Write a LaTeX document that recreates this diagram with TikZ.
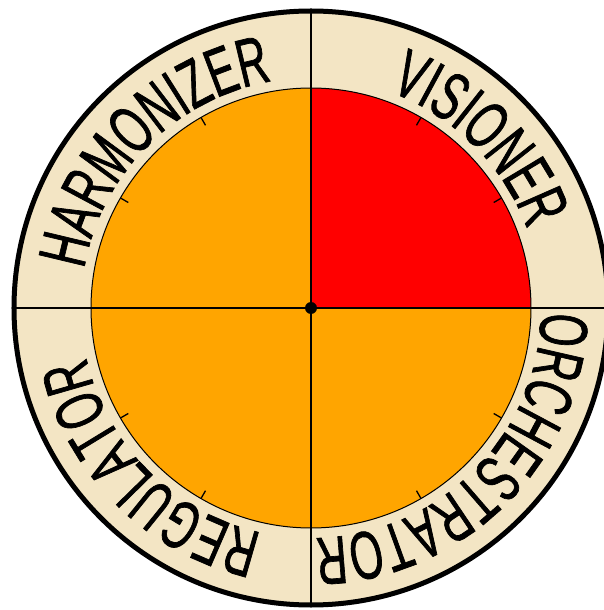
\documentclass[tikz,border=0pt]{standalone}
\usepackage{fontspec}
\usepackage{tikz}
\usetikzlibrary{decorations.text}
\newfontfamily\condfont[FakeStretch=0.62,FakeBold=1]{Liberation Sans}
\definecolor{ringbeige}{RGB}{243,229,196}
\definecolor{quadorange}{RGB}{255,165,0}
\definecolor{quadred}{RGB}{255,0,0}
\tikzset{
  ring/.style={fill=ringbeige,draw=black,line width=5pt},
  quad/.style={fill=quadorange},
  hot/.style={fill=quadred},
  rim/.style={draw=black,line width=1pt},
  axis/.style={draw=black,line width=2.4pt},
  tickmark/.style={draw=black,line width=1.3pt},
  arclabel/.style={decorate,decoration={text along path,text align=center,
    text={|\condfont\fontsize{68}{68}\selectfont|#1}}},
}

\begin{document}
\begin{tikzpicture}[x=1pt,y=1pt]
  \useasboundingbox (-311,-302) rectangle (292,308);
  \coordinate (c) at (0,0);
  \coordinate (w) at (180:297);
  \coordinate (e) at (0:297);
  \coordinate (n) at (90:297);
  \coordinate (s) at (270:297);
  \draw[ring] (c) circle[radius=297];
  \fill[quad] (c) circle[radius=220];
  \fill[hot] (c) -- (0:220) arc[start angle=0,end angle=90,radius=220] -- cycle;
  \draw[rim] (c) circle[radius=220];
  \draw[axis] (w) -- (e);
  \draw[axis] (n) -- (s);
  \foreach \a in {30,60,120,150,210,240,300,330}
    \draw[tickmark] (\a:211) -- (\a:220);
  \path[arclabel=HARMONIZER] (180:230) arc[start angle=180,end angle=90,radius=230];
  \path[arclabel=VISIONER] (90:230) arc[start angle=90,end angle=0,radius=230];
  \path[arclabel=ORCHESTRATOR] (0:230) arc[start angle=0,end angle=-90,radius=230];
  \path[arclabel=REGULATOR] (-90:230) arc[start angle=-90,end angle=-180,radius=230];
  \fill (c) circle[radius=6];
\end{tikzpicture}
\end{document}
